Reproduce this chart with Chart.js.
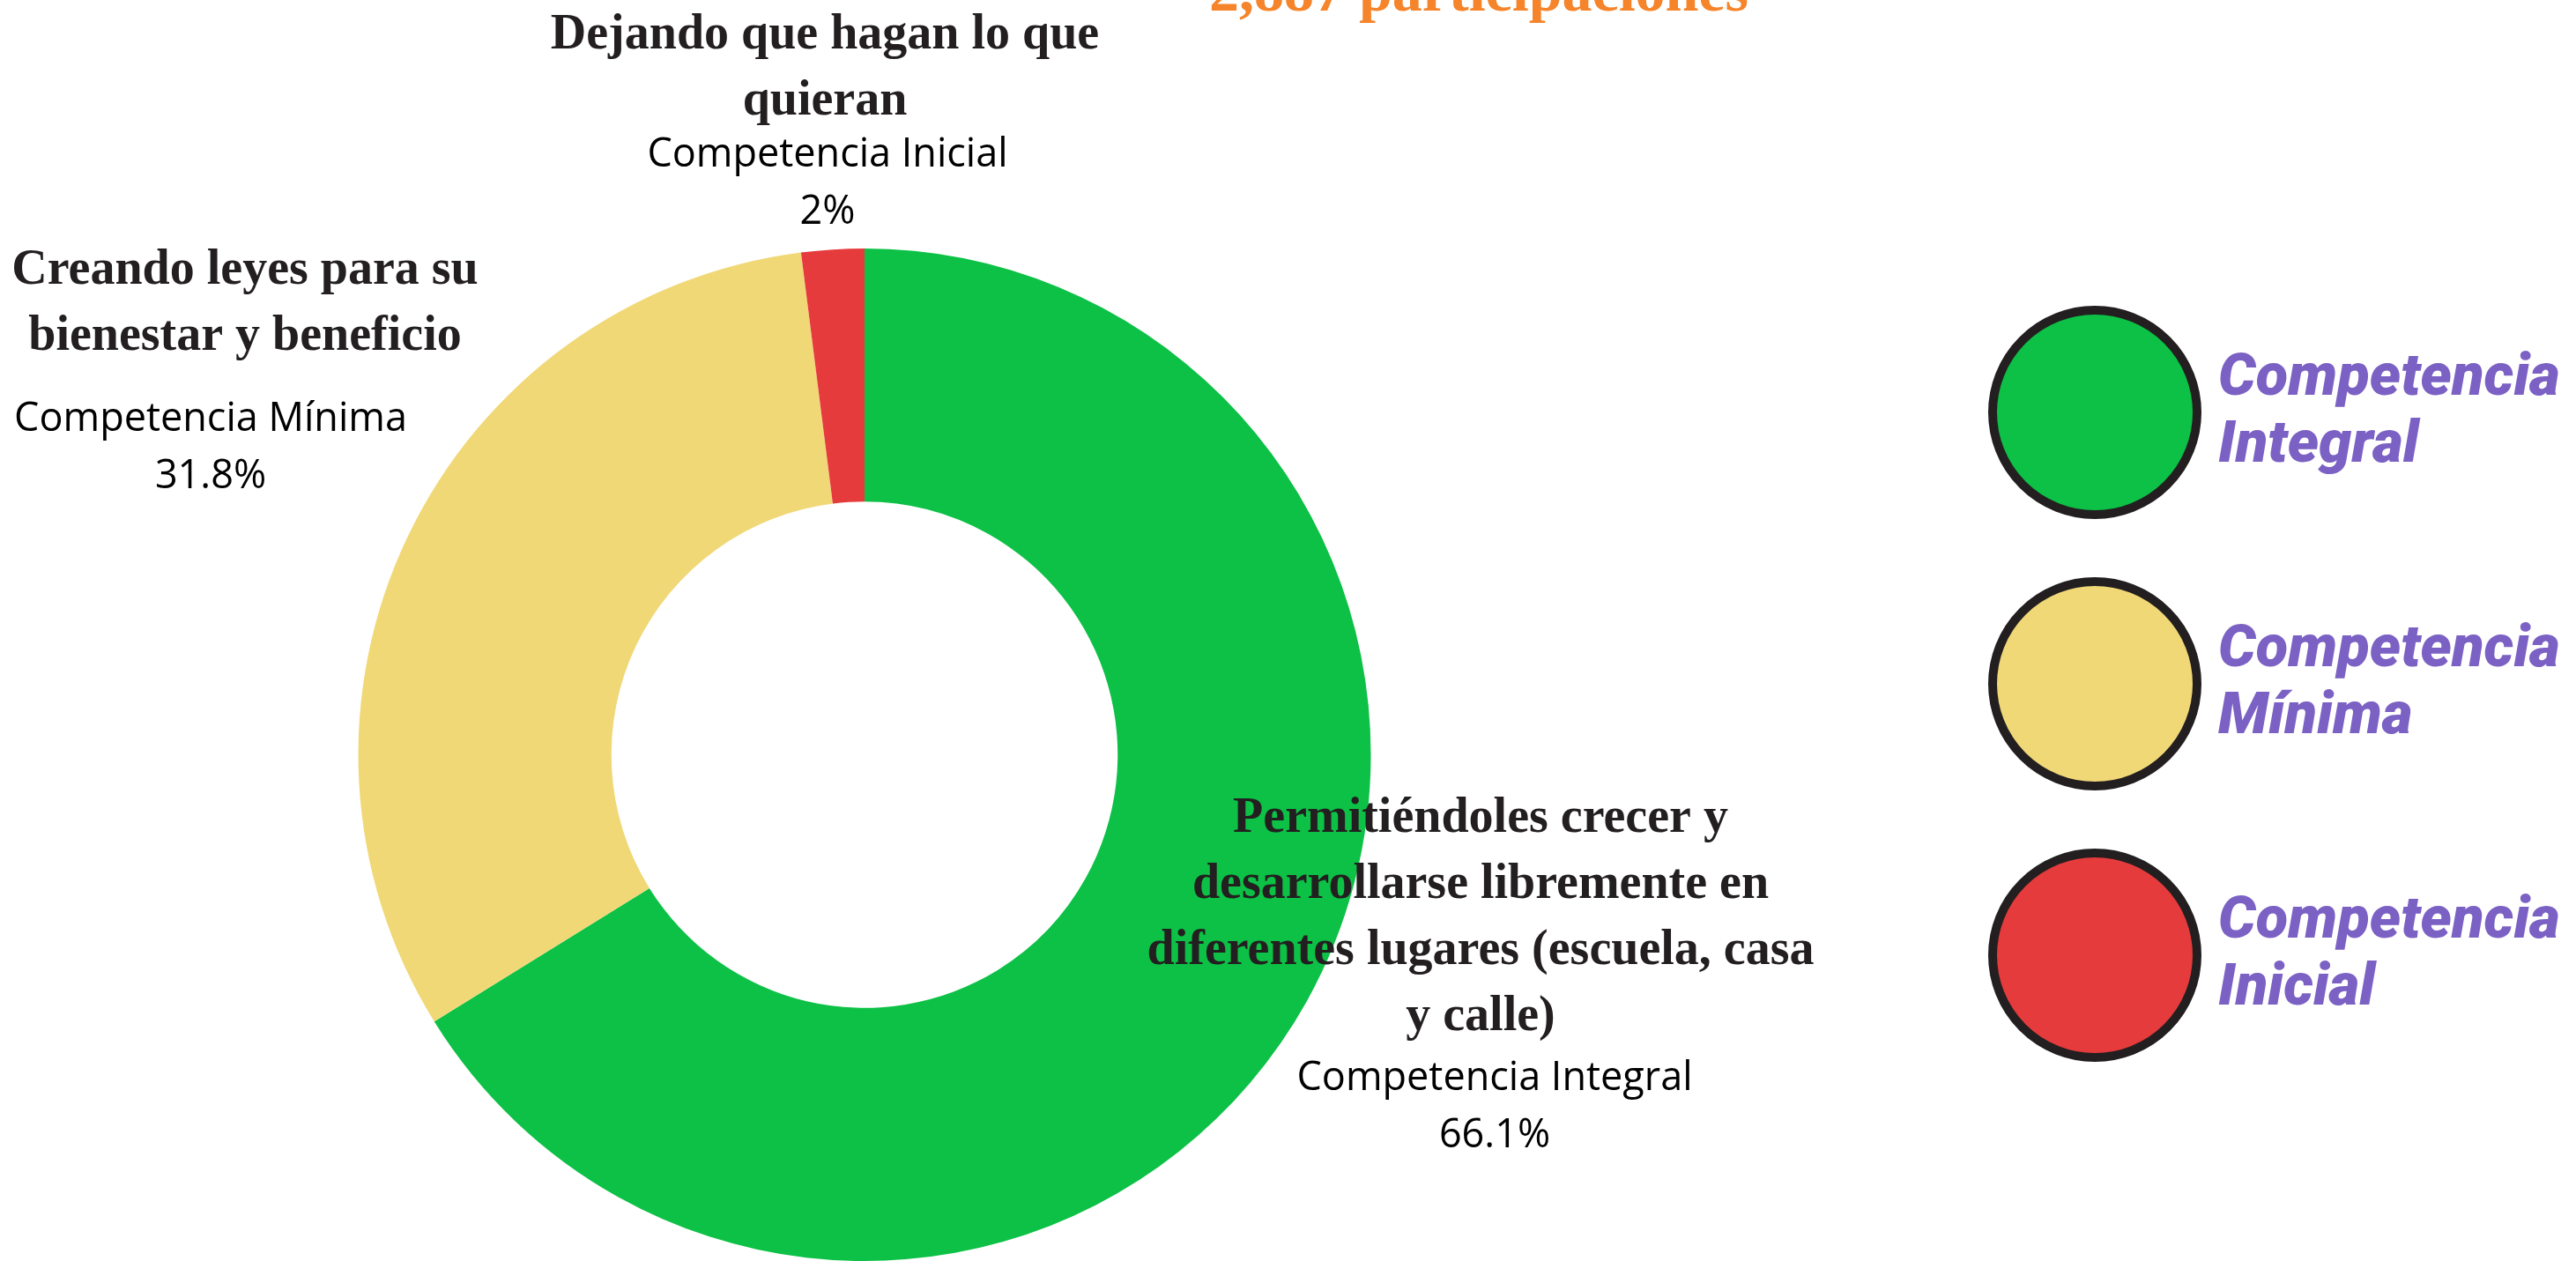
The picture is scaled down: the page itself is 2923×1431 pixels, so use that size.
<!DOCTYPE html>
<html>
<head>
<meta charset="utf-8">
<script src="https://cdn.jsdelivr.net/npm/chart.js@4.4.1/dist/chart.umd.min.js"></script>
<style>
  html, body { margin: 0; padding: 0; background: #fff; }
  #wrap { width: 2923px; height: 1431px; position: relative; }
</style>
</head>
<body>
<div id="wrap"><canvas id="mydonut"></canvas></div>
<script>
// data
const categories = ['Competencia Integral', 'Competencia Mínima', 'Competencia Inicial']
const percentages = [66.1, 31.8, 2]
const percentText = ['66.1%', '31.8%', '2%']
const answers = [
  ['Permitiéndoles crecer y', 'desarrollarse libremente en', 'diferentes lugares (escuela, casa', 'y calle)'],
  ['Creando leyes para su', 'bienestar y beneficio'],
  ['Dejando que hagan lo que', 'quieran']
]
const legendLines = [['Competencia', 'Integral'], ['Competencia', 'Mínima'], ['Competencia', 'Inicial']]
const chartTitle = '2,887 participaciones'
const sliceColors = ['#0cc145', '#f1d877', '#e63b3c']

// where each answer label sits, offsets from donut centre (px)
const labelSpots = [
  { x: 699, y: 73, subX: 715, subY: 368, gap: 65 },
  { x: -703, y: -549, subX: -742, subY: -380, gap: 65 },
  { x: -45, y: -816, subX: -42, subY: -680, gap: 65 }
]

const donutLabels = {
  id: 'donutLabels',
  afterDraw(chart) {
    const ctx = chart.ctx
    const arc = chart.getDatasetMeta(0).data[0]
    const cx = arc.x, cy = arc.y
    ctx.save()
    ctx.textAlign = 'center'
    ctx.textBaseline = 'middle'

    // title (cut at top edge)
    ctx.fillStyle = '#f5842a'
    ctx.font = 'bold 68px "Liberation Serif"'
    ctx.textBaseline = 'alphabetic'
    ctx.fillText(chartTitle, cx + 697, 12)
    ctx.textBaseline = 'middle'

    answers.forEach(function (lines, i) {
      const s = labelSpots[i]
      ctx.fillStyle = '#231f20'
      ctx.font = 'bold 56px "Liberation Serif"'
      lines.forEach(function (l, k) {
        ctx.fillText(l, cx + s.x, cy + s.y + k * 75)
      })
      ctx.fillStyle = '#000'
      ctx.font = '45px "Open Sans"'
      ctx.fillText(categories[i], cx + s.subX, cy + s.subY)
      ctx.fillText(percentText[i], cx + s.subX, cy + s.subY + s.gap)
    })

    // legend on the right
    legendLines.forEach(function (lines, i) {
      const lx = 2377, ly = 468 + i * 308
      ctx.beginPath()
      ctx.arc(lx, ly, 116, 0, Math.PI * 2)
      ctx.fillStyle = sliceColors[i]
      ctx.fill()
      ctx.lineWidth = 10
      ctx.strokeStyle = '#231f20'
      ctx.stroke()
      ctx.fillStyle = '#7b61c4'
      ctx.font = 'italic 900 67px Roboto'
      ctx.textAlign = 'left'
      ctx.fillText(lines[0], lx + 140, ly - 37)
      ctx.fillText(lines[1], lx + 140, ly + 39)
      ctx.textAlign = 'center'
    })
    ctx.restore()
  }
}

const canvasfordonut = document.getElementById('mydonut')
new Chart(canvasfordonut, {
  type: 'doughnut',
  data: {
    labels: categories,
    datasets: [{
      data: percentages,
      backgroundColor: sliceColors,
      borderWidth: 0
    }]
  },
  options: {
    responsive: true,
    maintainAspectRatio: false,
    animation: false,
    cutout: '50%',
    layout: { padding: { left: 406, top: 282, right: 1367, bottom: 0 } },
    plugins: {
      legend: { display: false },
      tooltip: { enabled: false }
    }
  },
  plugins: [donutLabels]
})
</script>
</body>
</html>
